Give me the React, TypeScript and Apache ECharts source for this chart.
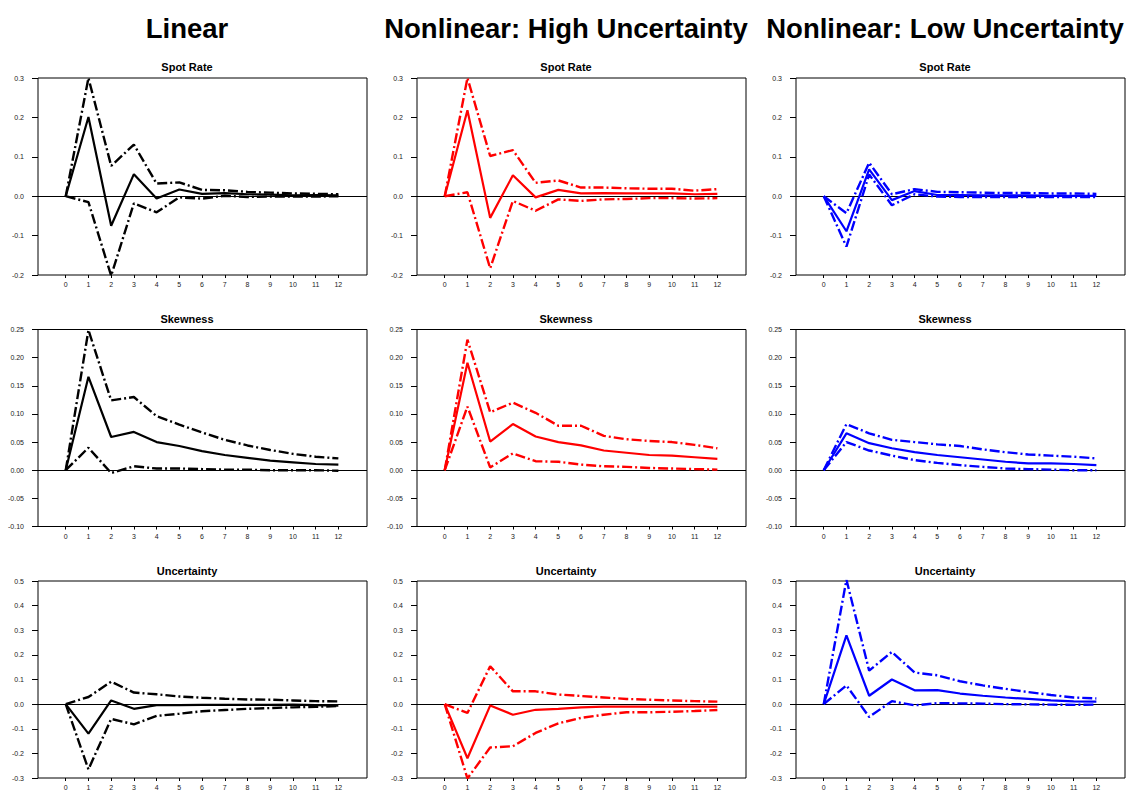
import React, { useEffect, useRef } from "react";
import * as echarts from "echarts";

const horizons = [0, 1, 2, 3, 4, 5, 6, 7, 8, 9, 10, 11, 12];

const columnTitles = ["Linear", "Nonlinear: High Uncertainty", "Nonlinear: Low Uncertainty"];
const rowTitles = ["Spot Rate", "Skewness", "Uncertainty"];
const columnColors = ["#000000", "#ff0000", "#0000ff"];

const yMins = [-0.2, -0.1, -0.3];
const yMaxs = [0.3, 0.25, 0.5];
const yIntervals = [0.1, 0.05, 0.1];
const yDecimals = [1, 2, 1];

// Linear
const linSpot = [0, 0.201, -0.075, 0.056, -0.006, 0.017, 0.006, 0.008, 0.005, 0.004, 0.002, 0.003, 0.002];
const linSpotUp = [0, 0.3, 0.077, 0.131, 0.032, 0.035, 0.016, 0.015, 0.011, 0.009, 0.007, 0.006, 0.005];
const linSpotLo = [0, -0.015, -0.202, -0.018, -0.041, -0.003, -0.006, 0.001, -0.002, -0.001, -0.001, -0.001, 0.0];
const linSkew = [0, 0.166, 0.059, 0.068, 0.05, 0.043, 0.034, 0.027, 0.022, 0.017, 0.014, 0.011, 0.01];
const linSkewUp = [0, 0.249, 0.124, 0.13, 0.096, 0.081, 0.067, 0.054, 0.044, 0.036, 0.029, 0.024, 0.021];
const linSkewLo = [0, 0.04, -0.005, 0.007, 0.003, 0.003, 0.002, 0.001, 0.001, 0.0, 0.0, 0.0, -0.001];
const linUnc = [0, -0.12, 0.015, -0.019, -0.004, -0.004, -0.003, -0.003, -0.003, -0.003, -0.002, -0.004, -0.006];
const linUncUp = [0, 0.029, 0.091, 0.047, 0.04, 0.031, 0.026, 0.022, 0.019, 0.018, 0.015, 0.012, 0.011];
const linUncLo = [0, -0.265, -0.06, -0.082, -0.048, -0.039, -0.029, -0.024, -0.019, -0.016, -0.013, -0.011, -0.008];

// Nonlinear: High Uncertainty
const hiSpot = [0, 0.218, -0.055, 0.053, -0.003, 0.016, 0.007, 0.008, 0.007, 0.007, 0.007, 0.005, 0.006];
const hiSpotUp = [0, 0.3, 0.102, 0.117, 0.034, 0.04, 0.022, 0.022, 0.02, 0.019, 0.019, 0.014, 0.018];
const hiSpotLo = [0, 0.01, -0.183, -0.012, -0.037, -0.008, -0.012, -0.008, -0.007, -0.005, -0.005, -0.006, -0.005];
const hiSkew = [0, 0.191, 0.051, 0.082, 0.06, 0.05, 0.044, 0.035, 0.031, 0.027, 0.026, 0.023, 0.02];
const hiSkewUp = [0, 0.232, 0.103, 0.12, 0.102, 0.079, 0.079, 0.061, 0.055, 0.052, 0.05, 0.045, 0.039];
const hiSkewLo = [0, 0.113, 0.005, 0.03, 0.016, 0.015, 0.01, 0.007, 0.006, 0.004, 0.003, 0.002, 0.001];
const hiUnc = [0, -0.22, -0.006, -0.043, -0.023, -0.019, -0.013, -0.01, -0.01, -0.01, -0.01, -0.01, -0.01];
const hiUncUp = [0, -0.036, 0.154, 0.052, 0.052, 0.039, 0.033, 0.027, 0.021, 0.018, 0.015, 0.012, 0.01];
const hiUncLo = [0, -0.302, -0.176, -0.171, -0.117, -0.078, -0.056, -0.043, -0.033, -0.033, -0.031, -0.028, -0.024];

// Nonlinear: Low Uncertainty
const loSpot = [0, -0.089, 0.068, -0.01, 0.013, 0.003, 0.003, 0.002, 0.002, 0.002, 0.001, 0.001, 0.001];
const loSpotUp = [0, -0.043, 0.085, 0.005, 0.018, 0.011, 0.01, 0.009, 0.008, 0.008, 0.007, 0.007, 0.006];
const loSpotLo = [0, -0.128, 0.055, -0.023, 0.005, -0.001, -0.002, -0.002, -0.002, -0.002, -0.002, -0.002, -0.002];
const loSkew = [0, 0.0655, 0.048, 0.039, 0.032, 0.027, 0.023, 0.019, 0.015, 0.012, 0.012, 0.011, 0.009];
const loSkewUp = [0, 0.082, 0.0655, 0.054, 0.05, 0.046, 0.043, 0.037, 0.032, 0.028, 0.026, 0.024, 0.021];
const loSkewLo = [0, 0.05, 0.035, 0.026, 0.018, 0.013, 0.009, 0.006, 0.003, 0.002, 0.001, 0.0, 0.0];
const loUnc = [0, 0.279, 0.034, 0.1, 0.056, 0.057, 0.043, 0.034, 0.027, 0.021, 0.015, 0.011, 0.01];
const loUncUp = [0, 0.505, 0.136, 0.212, 0.128, 0.117, 0.093, 0.076, 0.062, 0.049, 0.037, 0.027, 0.023];
const loUncLo = [0, 0.076, -0.052, 0.012, -0.005, 0.004, 0.003, 0.002, 0.0, -0.001, -0.002, -0.003, -0.002];

// panels[row][col] = [center, upper, lower]
const panels = [
  [[linSpot, linSpotUp, linSpotLo], [hiSpot, hiSpotUp, hiSpotLo], [loSpot, loSpotUp, loSpotLo]],
  [[linSkew, linSkewUp, linSkewLo], [hiSkew, hiSkewUp, hiSkewLo], [loSkew, loSkewUp, loSkewLo]],
  [[linUnc, linUncUp, linUncLo], [hiUnc, hiUncUp, hiUncLo], [loUnc, loUncUp, loUncLo]],
];

const FONT = "'Liberation Sans', Arial, Helvetica, sans-serif";

export default function App() {
  const ref = useRef<HTMLDivElement>(null);

  useEffect(() => {
    document.body.style.margin = "0";
    if (!ref.current) return;
    const chart = echarts.init(ref.current, null, { renderer: "svg" });

    const gridLefts = [38, 417, 796];
    const gridTops = [78, 329.5, 581];
    const gridW = 329;
    const gridH = 197;
    const titleCenters = [187, 566, 945];
    const subTitleCenters = [187, 566, 945];
    const subTitleYs = [67, 318.5, 570.5];

    const grids: any[] = [];
    const xAxes: any[] = [];
    const yAxes: any[] = [];
    const series: any[] = [];
    const graphics: any[] = [];

    columnTitles.forEach((t, c) => {
      graphics.push({
        type: "text",
        x: titleCenters[c],
        y: 28,
        style: {
          text: t,
          fill: "#000",
          font: `bold 27.5px ${FONT}`,
          textAlign: "center",
          textVerticalAlign: "middle",
        },
      });
    });

    for (let r = 0; r < 3; r++) {
      for (let c = 0; c < 3; c++) {
        const idx = r * 3 + c;
        grids.push({
          left: gridLefts[c],
          top: gridTops[r],
          width: gridW,
          height: gridH,
          show: true,
          borderColor: "#000",
          borderWidth: 1,
          backgroundColor: "transparent",
        });
        xAxes.push({
          type: "value",
          gridIndex: idx,
          min: -1.22,
          max: 13.26,
          position: "bottom",
          axisLine: { show: false, onZero: false },
          axisTick: { show: true, length: 3, customValues: horizons, lineStyle: { color: "#000" } },
          axisLabel: {
            show: true,
            customValues: horizons,
            fontSize: 7,
            fontFamily: FONT,
            color: "#222",
            margin: 6,
          },
          splitLine: { show: false },
        });
        const dec = yDecimals[r];
        yAxes.push({
          type: "value",
          gridIndex: idx,
          min: yMins[r],
          max: yMaxs[r],
          interval: yIntervals[r],
          axisLine: { show: false, onZero: false },
          axisTick: { show: true, length: 6, lineStyle: { color: "#000" } },
          axisLabel: {
            fontSize: 7,
            fontFamily: FONT,
            color: "#222",
            margin: 14,
            formatter: (v: number) => v.toFixed(dec),
          },
          splitLine: { show: false },
        });
        graphics.push({
          type: "text",
          x: subTitleCenters[c],
          y: subTitleYs[r],
          style: {
            text: rowTitles[r],
            fill: "#000",
            font: `bold 11px ${FONT}`,
            textAlign: "center",
            textVerticalAlign: "middle",
          },
        });
        const [mid, up, lo] = panels[r][c];
        const color = columnColors[c];
        series.push({
          type: "line",
          name: `${rowTitles[r]} ${c} center`,
          xAxisIndex: idx,
          yAxisIndex: idx,
          data: horizons.map((h, i) => [h, mid[i]]),
          symbol: "none",
          lineStyle: { color, width: 2.2, type: "solid" },
          z: 3,
          markLine: {
            silent: true,
            symbol: "none",
            label: { show: false },
            lineStyle: { color: "#000", width: 1, type: "solid" },
            data: [{ yAxis: 0 }],
            z: 1,
          },
        });
        [up, lo].forEach((arr, k) => {
          series.push({
            type: "line",
            name: `${rowTitles[r]} ${c} ${k === 0 ? "upper" : "lower"}`,
            xAxisIndex: idx,
            yAxisIndex: idx,
            data: horizons.map((h, i) => [h, arr[i]]),
            symbol: "none",
            lineStyle: { color, width: 2.4, type: [10, 3, 2, 3] },
            z: 2,
          });
        });
      }
    }

    chart.setOption({
      animation: false,
      backgroundColor: "#fff",
      textStyle: { fontFamily: FONT },
      grid: grids,
      xAxis: xAxes,
      yAxis: yAxes,
      series,
      graphic: graphics,
    });

    return () => chart.dispose();
  }, []);

  return <div ref={ref} style={{ width: 1126, height: 793 }} />;
}
